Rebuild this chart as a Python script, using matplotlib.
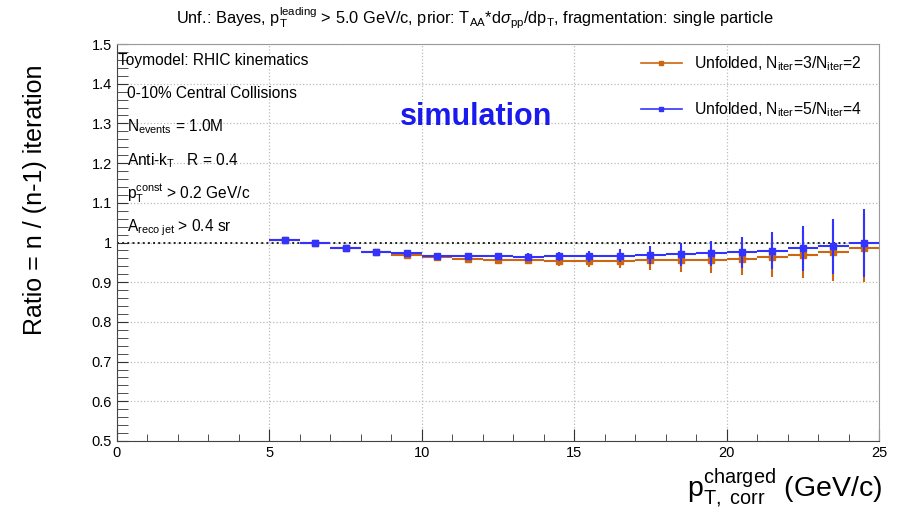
import numpy as np
import matplotlib
matplotlib.use("Agg")
import matplotlib.pyplot as plt
from matplotlib.ticker import MultipleLocator
from matplotlib.lines import Line2D

plt.rcParams['font.family'] = ['Liberation Sans', 'DejaVu Sans']
plt.rcParams['mathtext.fontset'] = 'custom'
plt.rcParams['mathtext.rm'] = 'Liberation Sans'
plt.rcParams['mathtext.it'] = 'Liberation Sans:italic'
plt.rcParams['mathtext.bf'] = 'Liberation Sans:bold'

# bin centres (GeV/c), 1 GeV/c wide
pt = [5.5, 6.5, 7.5, 8.5, 9.5, 10.5, 11.5, 12.5, 13.5, 14.5,
      15.5, 16.5, 17.5, 18.5, 19.5, 20.5, 21.5, 22.5, 23.5, 24.5]
ratio_3_2 = [1.007, 0.998, 0.985, 0.975, 0.969, 0.963, 0.959, 0.957, 0.955, 0.954,
             0.954, 0.953, 0.955, 0.955, 0.957, 0.958, 0.963, 0.969, 0.976, 0.986]
err_3_2 = [0.002, 0.002, 0.002, 0.003, 0.004, 0.005, 0.006, 0.008, 0.010, 0.013,
           0.016, 0.018, 0.024, 0.029, 0.033, 0.040, 0.049, 0.059, 0.072, 0.086]
ratio_5_4 = [1.007, 0.998, 0.987, 0.977, 0.973, 0.967, 0.965, 0.965, 0.964, 0.965,
             0.965, 0.967, 0.968, 0.970, 0.973, 0.975, 0.979, 0.985, 0.990, 0.999]
err_5_4 = [0.002, 0.002, 0.002, 0.003, 0.004, 0.005, 0.006, 0.008, 0.010, 0.012,
           0.014, 0.017, 0.022, 0.028, 0.031, 0.039, 0.047, 0.057, 0.070, 0.086]

labels = [r"Unfolded, N$_{\rm iter}$=3/N$_{\rm iter}$=2",
          r"Unfolded, N$_{\rm iter}$=5/N$_{\rm iter}$=4"]

info_lines = ["Toymodel: RHIC kinematics",
              "0-10% Central Collisions",
              r"N$_{\rm events}$ = 1.0M",
              r"Anti-k$_{\rm T}$   R = 0.4",
              r"p$_{\rm T}^{\rm const}$ > 0.2 GeV/c",
              r"A$_{\rm reco\ jet}$ > 0.4 sr"]

orange = '#cc6611'
blue = '#3333ff'

fig = plt.figure(figsize=(8.99, 5.12), dpi=100)
ax = fig.add_axes([117/899, 1-441/512, (879-117)/899, (441-44)/512])

ax.grid(True, which='major', color='#bbbbbb', linestyle=':', linewidth=0.9)
ax.axhline(1.0, color='#222222', linestyle=':', linewidth=1.4, zorder=2)

ax.errorbar(pt, ratio_3_2, xerr=0.5, yerr=err_3_2, fmt='s', color=orange, ecolor=orange,
            markersize=4, elinewidth=1.5, capsize=0, zorder=3)
ax.errorbar(pt, ratio_5_4, xerr=0.5, yerr=err_5_4, fmt='s', color=blue, ecolor=blue,
            markersize=4, elinewidth=1.5, capsize=0, zorder=4)

ax.set_xlim(0, 25)
ax.set_ylim(0.5, 1.5)
ax.xaxis.set_major_locator(MultipleLocator(5))
ax.xaxis.set_minor_locator(MultipleLocator(1))
ax.yaxis.set_minor_locator(MultipleLocator(0.02))
ax.set_yticks(np.arange(0.5, 1.51, 0.1))
ax.set_yticklabels(['0.5', '0.6', '0.7', '0.8', '0.9', '1', '1.1', '1.2', '1.3', '1.4', '1.5'])
ax.tick_params(which='both', direction='in', labelsize=10.5, color='#333333')
ax.tick_params(axis='x', which='major', length=9)
ax.tick_params(axis='x', which='minor', length=5)
ax.tick_params(axis='y', which='both', length=8)
for s in ['top', 'right']:
    ax.spines[s].set_color('#999999')
for s in ['left', 'bottom']:
    ax.spines[s].set_color('#444444')

handles = [Line2D([], [], color=orange, marker='s', markersize=3.5, linewidth=1.2),
           Line2D([], [], color=blue, marker='s', markersize=3.5, linewidth=1.2)]
ax.legend(handles, labels, loc='upper right', bbox_to_anchor=(0.997, 1.01), frameon=False,
          fontsize=11.3, handlelength=2.6, labelspacing=1.75, handletextpad=0.8)

for i, t in enumerate(info_lines):
    x = 118 if i == 0 else 127
    fig.text(x/899, 1-(60 + i*33.5)/512, t, fontsize=11.2, va='center', ha='left')

fig.text(476/899, 1-117/512, "simulation", fontsize=22, fontweight='bold', color='#1a1aee',
         ha='center', va='center')

fig.text(475/899, 1-18/512,
         r"Unf.: Bayes, p$_{\rm T}^{\rm leading}$ > 5.0 GeV/c, prior: T$_{\rm AA}$*d$\sigma_{\rm pp}$/dp$_{\rm T}$, fragmentation: single particle",
         fontsize=11.8, ha='center', va='center')

fig.text(35/899, 1-200/512, "Ratio = n / (n-1) iteration", fontsize=18, rotation=90,
         ha='center', va='center')
fig.text(882/899, 1-488/512, r"p$_{\rm T,\ corr}^{\rm charged}$ (GeV/c)", fontsize=20.5,
         ha='right', va='center')

fig.savefig("out.png", dpi=100)
